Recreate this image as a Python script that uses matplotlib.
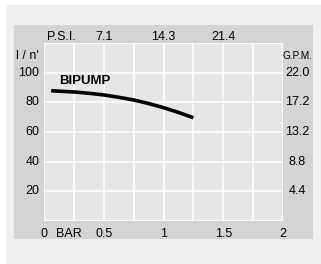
import numpy as np
from matplotlib import pyplot as plt
from matplotlib.patches import Rectangle

# pump curve (flow l/min vs pressure bar)
bar = [0.06, 0.25, 0.375, 0.5, 0.625, 0.75, 0.875, 1.0, 1.125, 1.25]
flow = [87.8, 87.0, 86.1, 85.0, 83.4, 81.6, 79.2, 76.4, 73.2, 69.6]

lpm_ticks = [20, 40, 60, 80, 100]
gpm_labels = ['4.4', '8.8', '13.2', '17.2', '22.0']
bar_ticks = [0.5, 1, 1.5, 2]
bar_labels = ['0.5', '1', '1.5', '2']
psi_ticks = [0.5, 1.0, 1.5]
psi_labels = ['7.1', '14.3', '21.4']

W, H = 321, 264
plt.rcParams['font.family'] = ['Liberation Sans', 'DejaVu Sans']
fig = plt.figure(figsize=(W / 100, H / 100), dpi=100)
fig.patch.set_facecolor('white')

def px_rect(x0, y0, x1, y1, color):
    # rectangle given in pixel coords (top-left origin)
    fig.patches.append(Rectangle((x0 / W, 1 - y1 / H), (x1 - x0) / W, (y1 - y0) / H,
                                 transform=fig.transFigure, facecolor=color,
                                 edgecolor='none', zorder=-10))

px_rect(6, 5, W, H, '#efefef')
px_rect(14, 25, 312.5, 239, '#d4d4d4')

ax = fig.add_axes([44 / W, 1 - 221 / H, 239 / W, 178 / H])
ax.set_facecolor('#e6e6e6')
ax.set_xlim(0, 2)
ax.set_ylim(0, 120)
ax.set_xticks(np.arange(0, 2.01, 0.25))
ax.set_yticks(np.arange(0, 121, 20))
ax.grid(True, color='white', lw=1.2)
ax.set_axisbelow(True)
ax.tick_params(length=0, labelleft=False, labelbottom=False)
for s in ax.spines.values():
    s.set_visible(False)

ax.plot(bar, flow, color='black', lw=2.6, solid_capstyle='butt')
ax.text(0.125, 94.5, 'BIPUMP', fontsize=9.5, fontweight='bold', va='center', ha='left')

fs = 9
trans_l = ax.get_yaxis_transform()
for v in lpm_ticks:
    ax.text(-0.02, v, str(v), transform=trans_l, ha='right', va='center', fontsize=fs)
for v, lab in zip(lpm_ticks, gpm_labels):
    ax.text(1.06, v, lab, transform=trans_l, ha='center', va='center', fontsize=fs)
ax.text(-0.02, 111, 'l / n\'', transform=trans_l, ha='right', va='center', fontsize=fs)
ax.text(1.06, 111, 'G.P.M.', transform=trans_l, ha='center', va='center', fontsize=7.2)

trans_b = ax.get_xaxis_transform()
ax.text(0, -0.075, '0', transform=trans_b, ha='center', va='center', fontsize=fs)
ax.text(0.21, -0.075, 'BAR', transform=trans_b, ha='center', va='center', fontsize=fs)
for v, lab in zip(bar_ticks, bar_labels):
    ax.text(v, -0.075, lab, transform=trans_b, ha='center', va='center', fontsize=fs)
ax.text(0.145, 1.035, 'P.S.I.', transform=trans_b, ha='center', va='center', fontsize=fs)
for v, lab in zip(psi_ticks, psi_labels):
    ax.text(v, 1.035, lab, transform=trans_b, ha='center', va='center', fontsize=fs)

fig.savefig('out.png', dpi=100)
